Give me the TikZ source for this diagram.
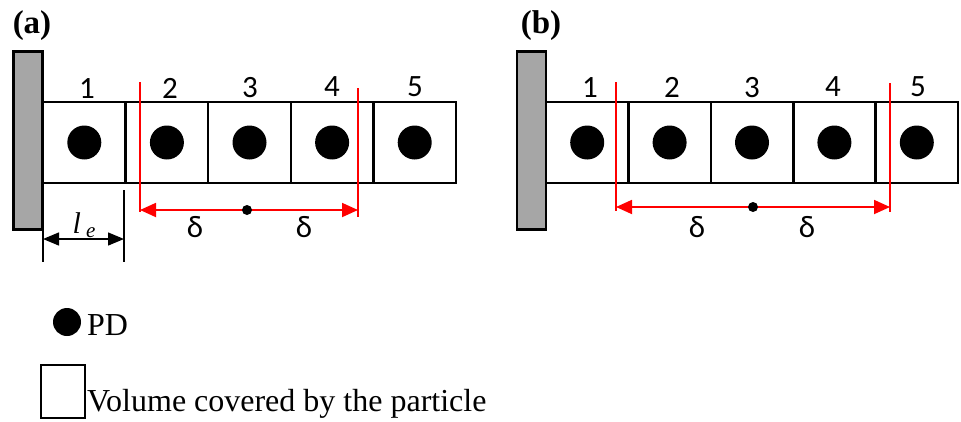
\documentclass[tikz,border=0pt]{standalone}
\usepackage{fontspec}
\setmainfont{Liberation Serif}
\newfontfamily\calibri{Carlito}
\usetikzlibrary{arrows.meta,positioning}

\begin{document}
\begin{tikzpicture}[x=1pt, y=-1pt,
  cell/.style={draw, line width=2.4pt, minimum width=82.6pt, minimum height=81pt, inner sep=0pt, outer sep=0pt},
  pd/.style={circle, fill=black, minimum size=34pt, inner sep=0pt},
  wall/.style={draw, line width=2.6pt, fill=gray!70, minimum width=29pt, minimum height=178pt, inner sep=0pt},
  num/.style={font=\calibri\fontsize{31}{36}\selectfont, anchor=base, inner sep=0pt},
  tag/.style={font=\bfseries\fontsize{33}{38}\selectfont, anchor=base, inner sep=0pt},
  legend/.style={font=\fontsize{32}{38}\selectfont, anchor=base west, inner sep=0pt},
  horizon/.style={draw=red, line width=2.4pt},
  span/.style={{Triangle[length=16pt,width=14pt]}-{Triangle[length=16pt,width=14pt]}, red, line width=1.8pt},
  dim/.style={{Triangle[length=16pt,width=13pt]}-{Triangle[length=16pt,width=13pt]}, line width=1.4pt},
  tick/.style={draw, line width=1.2pt},
  mid/.style={circle, fill=black, minimum size=10pt, inner sep=0pt}]
\useasboundingbox (0,0) rectangle (961,421);

% (a)
\node[tag] (la) at (32,33) {(a)};
\node[wall] (wa) at (28,140.5) {};
\node[cell] (a1) at (84.3,142.5) {};
\node[cell] (a2) at (166.9,142.5) {};
\node[cell] (a3) at (249.5,142.5) {};
\node[cell] (a4) at (332.1,142.5) {};
\node[cell] (a5) at (414.7,142.5) {};
\node[pd] (pa1) at (a1) {};
\node[pd] (pa2) at (a2) {};
\node[pd] (pa3) at (a3) {};
\node[pd] (pa4) at (a4) {};
\node[pd] (pa5) at (a5) {};
\node[num] (na1) at (87,98) {1};
\node[num] (na2) at (170,98) {2};
\node[num] (na3) at (250,97) {3};
\node[num] (na4) at (332,96) {4};
\node[num] (na5) at (415,96) {5};

\coordinate (aLt) at (140,82);
\coordinate (aLb) at (140,212);
\coordinate (aRt) at (358,88);
\coordinate (aRb) at (358,217);
\draw[horizon] (aLt) -- (aLb);
\draw[horizon] (aRt) -- (aRb);
\coordinate (aL) at (140,210);
\coordinate (aR) at (358,210);
\draw[span] (aL) -- (aR);
\node[mid] (ca) at (247,210) {};
\node[num] (da1) at (195,237) {δ};
\node[num] (da2) at (304,237) {δ};

\coordinate (eLt) at (43,190);
\coordinate (eLb) at (43,262);
\coordinate (eRt) at (124,190);
\coordinate (eRb) at (124,262);
\draw[tick] (eLt) -- (eLb);
\draw[tick] (eRt) -- (eRb);
\coordinate (eL) at (43,239);
\coordinate (eR) at (124,239);
\draw[dim] (eL) -- (eR);
\node[font=\itshape\fontsize{30}{34}\selectfont, anchor=base, inner sep=0pt] (le) at (84,233) {l\,\raisebox{-4pt}{\fontsize{21}{24}\selectfont e}};

% (b)
\node[tag] (lb) at (541,33) {(b)};
\node[wall] (wb) at (531.5,140.5) {};
\node[cell] (b1) at (587.2,142.5) {};
\node[cell] (b2) at (669.6,142.5) {};
\node[cell] (b3) at (752,142.5) {};
\node[cell] (b4) at (834.4,142.5) {};
\node[cell] (b5) at (916.8,142.5) {};
\node[pd] (pb1) at (b1) {};
\node[pd] (pb2) at (b2) {};
\node[pd] (pb3) at (b3) {};
\node[pd] (pb4) at (b4) {};
\node[pd] (pb5) at (b5) {};
\node[num] (nb1) at (590,97) {1};
\node[num] (nb2) at (672,97) {2};
\node[num] (nb3) at (752,97) {3};
\node[num] (nb4) at (833,96) {4};
\node[num] (nb5) at (918,96) {5};

\coordinate (bLt) at (616,82);
\coordinate (bLb) at (616,211);
\coordinate (bRt) at (890,83);
\coordinate (bRb) at (890,212);
\draw[horizon] (bLt) -- (bLb);
\draw[horizon] (bRt) -- (bRb);
\coordinate (bL) at (616,207);
\coordinate (bR) at (890,207);
\draw[span] (bL) -- (bR);
\node[mid] (cb) at (753,207) {};
\node[num] (db1) at (697,237) {δ};
\node[num] (db2) at (807,237) {δ};

% legend
\node[pd, minimum size=28pt] (kd) at (67,322) {};
\node[legend] (kdt) at (87,335) {PD};
\node[draw, line width=2.4pt, minimum width=44pt, minimum height=53pt, inner sep=0pt] (kc) at (63,391.5) {};
\node[legend] (kct) at (87,411) {Volume covered by the particle};
\end{tikzpicture}
\end{document}
